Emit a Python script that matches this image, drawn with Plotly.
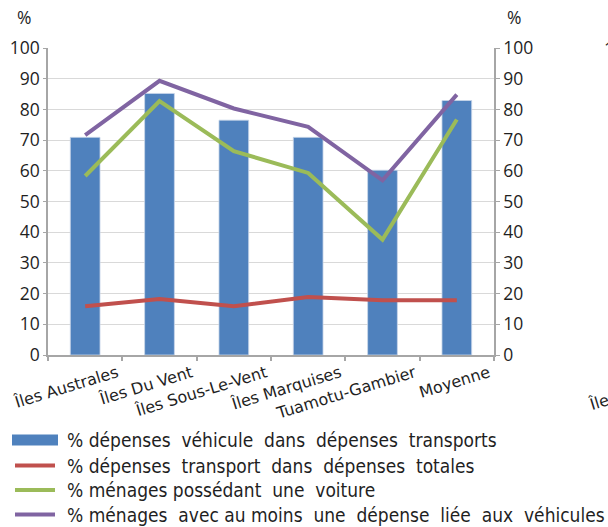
import plotly.graph_objects as go

categories = ["Îles Australes", "Îles Du Vent", "Îles Sous-Le-Vent", "Îles Marquises", "Tuamotu-Gambier", "Moyenne"]
vehicule_dans_transports = [70.9, 85.2, 76.5, 70.9, 60.2, 82.9]
transport_dans_totales = [15.9, 18.2, 15.9, 18.9, 17.8, 17.8]
menages_voiture = [58.3, 82.7, 66.4, 59.3, 37.6, 76.7]
menages_depense_vehicule = [71.6, 89.3, 80.3, 74.3, 56.9, 84.8]

series_names = [
    "% dépenses  véhicule  dans  dépenses  transports",
    "% dépenses  transport  dans  dépenses  totales",
    "% ménages possédant  une  voiture",
    "% ménages  avec au moins  une  dépense  liée  aux  véhicules",
]
colors = ["#4F81BD", "#C0504D", "#9BBB59", "#8064A2"]
y_ticks = list(range(0, 101, 10))

W, H = 608, 527
L, R, T, B = 48, 114, 48, 172
PW, PH = W - L - R, H - T - B


def px(x):
    return (x - L) / PW


def py(y):
    return (H - B - y) / PH


TXT = "#1F1F1F"
AX = "#A6A6A6"
NUMFONT = dict(family="Open Sans, Noto Sans, sans-serif", size=17.5, color=TXT)
CATFONT = dict(family="DejaVu Sans, Verdana, sans-serif", size=16, color=TXT)

fig = go.Figure()
fig.add_trace(go.Bar(x=categories, y=vehicule_dans_transports, name=series_names[0],
                     marker=dict(color=colors[0], line=dict(color="#C9D7EA", width=0.8)),
                     yaxis="y"))
for vals, name, col in [(transport_dans_totales, series_names[1], colors[1]),
                        (menages_voiture, series_names[2], colors[2]),
                        (menages_depense_vehicule, series_names[3], colors[3])]:
    fig.add_trace(go.Scatter(x=categories, y=vals, name=name, mode="lines",
                             line=dict(color=col, width=4), yaxis="y2"))

fig.update_layout(
    width=W, height=H,
    margin=dict(l=L, r=R, t=T, b=B, autoexpand=False),
    paper_bgcolor="white", plot_bgcolor="white",
    showlegend=False,
    bargap=0.6,
    xaxis=dict(type="category", showline=True, linecolor=AX, linewidth=1.5,
               ticks="outside", tickson="boundaries", ticklen=4, tickcolor=AX, tickwidth=1.5,
               tickangle=-17, tickfont=CATFONT,
               ticklabelshift=32, ticklabelstandoff=1, showgrid=False),
    yaxis=dict(range=[0, 100], tickvals=y_ticks, showgrid=True, gridcolor="#D9D9D9", gridwidth=1.2,
               showline=True, linecolor=AX, linewidth=1.5, ticks="outside", ticklen=3,
               tickcolor=AX, tickfont=NUMFONT, zeroline=False),
    yaxis2=dict(range=[0, 100], tickvals=y_ticks, overlaying="y", side="right", showgrid=False,
                showline=True, linecolor=AX, linewidth=1.5, ticks="outside", ticklen=4,
                tickcolor=AX, tickfont=NUMFONT, zeroline=False),
)

ann = []
ann.append(dict(text="%", x=px(23.5), y=py(17), xref="paper", yref="paper", showarrow=False,
                font=NUMFONT, xanchor="center", yanchor="middle"))
ann.append(dict(text="%", x=px(514), y=py(17), xref="paper", yref="paper", showarrow=False,
                font=NUMFONT, xanchor="center", yanchor="middle"))
# fragments of the neighbouring chart, cut by the image edge
ann.append(dict(text=str(y_ticks[-1]), x=px(602), y=py(48), xref="paper", yref="paper", showarrow=False,
                font=NUMFONT, xanchor="left", yanchor="middle"))
ann.append(dict(text=categories[0], x=px(641), y=py(389), xref="paper", yref="paper", showarrow=False,
                textangle=-17, font=CATFONT, xanchor="center", yanchor="middle"))

shapes = []
row_y = [440, 465.5, 490, 514.5]
LEGFONT = dict(family="DejaVu Sans Condensed, Liberation Sans Narrow, DejaVu Sans, sans-serif", size=19, color=TXT)
for i, (name, col) in enumerate(zip(series_names, colors)):
    if i == 0:
        shapes.append(dict(type="rect", xref="paper", yref="paper", x0=px(12), x1=px(58),
                           y0=py(row_y[i] - 5.5), y1=py(row_y[i] + 5.5), fillcolor=col, line=dict(width=0)))
    else:
        shapes.append(dict(type="line", xref="paper", yref="paper", x0=px(15), x1=px(55),
                           y0=py(row_y[i]), y1=py(row_y[i]), line=dict(color=col, width=4)))
    ann.append(dict(text=name, x=px(65), y=py(row_y[i]), xref="paper", yref="paper", showarrow=False,
                    font=LEGFONT, xanchor="left", yanchor="middle"))

fig.update_layout(annotations=ann, shapes=shapes)
fig.write_html("out.html", config={"displayModeBar": False},
               post_script="document.body.style.margin='0';document.body.style.overflow='hidden';")
